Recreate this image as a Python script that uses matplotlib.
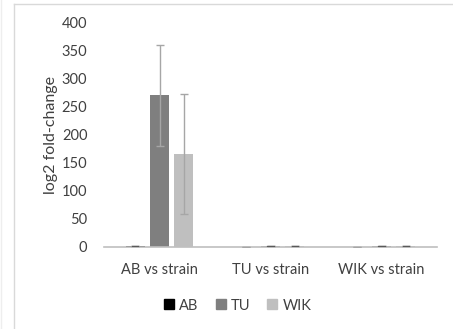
import numpy as np
import matplotlib.pyplot as plt
from matplotlib.lines import Line2D

categories = ["AB vs strain", "TU vs strain", "WIK vs strain"]
series = ["AB", "TU", "WIK"]
values = {
    "AB": [0.5, 0.0, 0.0],
    "TU": [270, 0.5, 0.5],
    "WIK": [165, 0.5, 0.5],
}
errors = {
    "AB": [0.0, 0.0, 0.0],
    "TU": [90, 0.0, 0.0],
    "WIK": [107, 0.0, 0.0],
}
colors = {"AB": "#000000", "TU": "#7f7f7f", "WIK": "#bfbfbf"}

plt.rcParams["font.family"] = ["Lato", "DejaVu Sans"]
txt = "#404040"

W, H = 453, 329
fig = plt.figure(figsize=(W / 100, H / 100), dpi=100)
ax = fig.add_axes([104 / W, 1 - 246.7 / H, (437 - 104) / W, (246.7 - 22.3) / H])

x = np.arange(len(categories))
width = 0.17
offsets = [-0.22, 0.0, 0.22]
for s, off in zip(series, offsets):
    ax.bar(x + off, values[s], width, color=colors[s], label=s, zorder=2)
    ax.errorbar(x + off, values[s], yerr=errors[s], fmt="none",
                ecolor="#a6a6a6", elinewidth=1.0, capsize=3, capthick=1.0, zorder=3)
    # small dash marks at the tiny values
    for xi, v in zip(x + off, values[s]):
        if 0 < v < 5:
            ax.plot([xi - 0.03, xi + 0.03], [v, v], color="#595959", lw=0.9, zorder=3)

ax.set_xlim(-0.5, 2.5)
ax.set_ylim(0, 400)
ax.set_yticks(range(0, 401, 50))
ax.set_xticks(x)
ax.set_xticklabels(categories)
for sp in ["top", "right", "left"]:
    ax.spines[sp].set_visible(False)
ax.spines["bottom"].set_color("#bfbfbf")
ax.spines["bottom"].set_linewidth(1.2)
ax.tick_params(axis="both", length=0, labelsize=10.5, colors=txt)
ax.tick_params(axis="x", pad=12)
ax.tick_params(axis="y", pad=12)
ax.set_ylabel("log2 fold-change", fontsize=11.5, color=txt, labelpad=3)

handles = [Line2D([0], [0], marker="s", linestyle="none", markersize=6.5,
                  markerfacecolor=colors[s], markeredgecolor=colors[s]) for s in series]
fig.legend(handles, series, loc="center", bbox_to_anchor=(238 / W, 1 - 305.5 / H),
           ncol=3, frameon=False, fontsize=10.5, handlelength=0.6, handletextpad=0.4,
           columnspacing=1.2, labelcolor=txt)

# chart frame
fig.add_artist(Line2D([14 / W, 14 / W], [0, 1 - 3.5 / H], transform=fig.transFigure,
                      color="#d9d9d9", lw=1.0))
fig.add_artist(Line2D([14 / W, 1], [1 - 3.5 / H, 1 - 3.5 / H], transform=fig.transFigure,
                      color="#d9d9d9", lw=1.0))
fig.add_artist(Line2D([1 / W, 1 / W], [0, 1], transform=fig.transFigure,
                      color="#eeeeee", lw=1.0))

fig.savefig("out.png", dpi=100)
